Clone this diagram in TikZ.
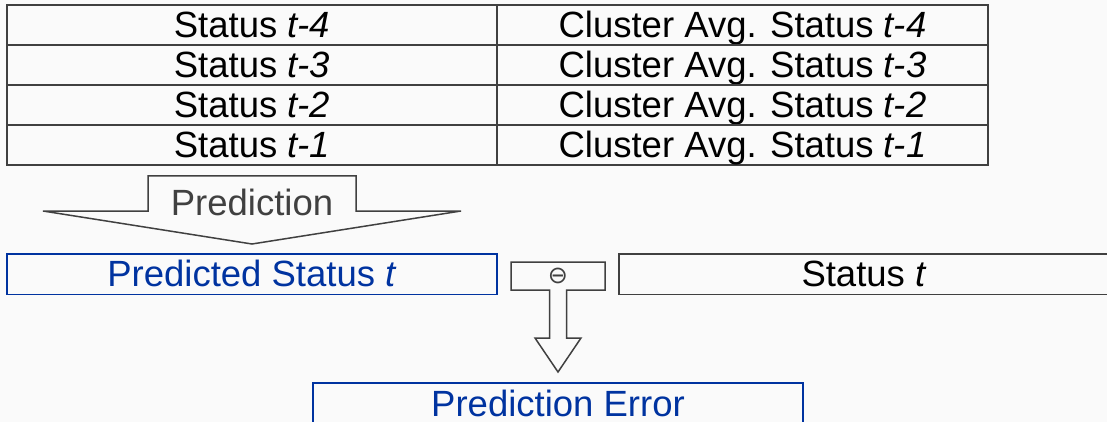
\documentclass[tikz,border=0pt]{standalone}
\usepackage{fontspec}
\setmainfont{Liberation Sans}
\newfontfamily\symbolfont{DejaVu Sans}
\usetikzlibrary{positioning}
\definecolor{pagebg}{RGB}{250,250,250}
\definecolor{framegray}{RGB}{64,64,64}
\definecolor{predblue}{RGB}{0,51,160}

\begin{document}
\begin{tikzpicture}[x=1pt, y=-1pt,
  label/.style={font=\fontsize{36.5}{40}\selectfont, text height=29pt,
                text depth=4pt, inner sep=0pt},
  cell/.style={label, rectangle, draw=framegray, line width=1.6pt,
               minimum width=490pt, minimum height=40pt, outer sep=0pt},
  result/.style={cell, minimum height=40.5pt},
  bluebox/.style={result, draw=predblue, text=predblue},
  blockarrow/.style={draw=framegray, line width=1.5pt, line join=miter}
]
  \fill[pagebg] (0,0) rectangle (1107,422);
  \useasboundingbox (0,0) rectangle (1107,422);
  \clip (0,0) rectangle (1107,422);

  % ── input table ──
  \node[cell] (s4) at (252,25) {Status \textit{t-4}};
  \node[cell, below=0pt of s4] (s3) {Status \textit{t-3}};
  \node[cell, below=0pt of s3] (s2) {Status \textit{t-2}};
  \node[cell, below=0pt of s2] (s1) {Status \textit{t-1}};

  \node[cell, right=0pt of s4, minimum width=491pt] (c4) {Cluster Avg. Status \textit{t-4}};
  \node[cell, below=0pt of c4, minimum width=491pt] (c3) {Cluster Avg. Status \textit{t-3}};
  \node[cell, below=0pt of c3, minimum width=491pt] (c2) {Cluster Avg. Status \textit{t-2}};
  \node[cell, below=0pt of c2, minimum width=491pt] (c1) {Cluster Avg. Status \textit{t-1}};

  % ── prediction step ──
  \node[bluebox] (pred) at (252,274.3) {Predicted Status \textit{t}};
  \node[result, right=122pt of pred] (cur) {Status \textit{t}};

  \draw[blockarrow] (43,211) -- (148,211) -- (148,176) -- (356,176)
        -- (356,211) -- (461,211) -- (pred.north |- 0,244) -- cycle;
  \node[label, text=framegray] (predlabel) at (252,202.5) {Prediction};

  % ── difference ──
  \node[bluebox] (err) at (558,403.5) {Prediction Error};

  \draw[blockarrow] (511,262) -- (605,262) -- (605,290) -- (566.5,290)
        -- (566.5,338) -- (581,338) -- (err.north |- 0,372) -- (535,338)
        -- (549.5,338) -- (549.5,290) -- (511,290) -- cycle;
  \node[font=\symbolfont\fontsize{24}{24}\selectfont, text=framegray,
        inner sep=0pt] (minus) at (558,275.5) {⊖};
\end{tikzpicture}
\end{document}
